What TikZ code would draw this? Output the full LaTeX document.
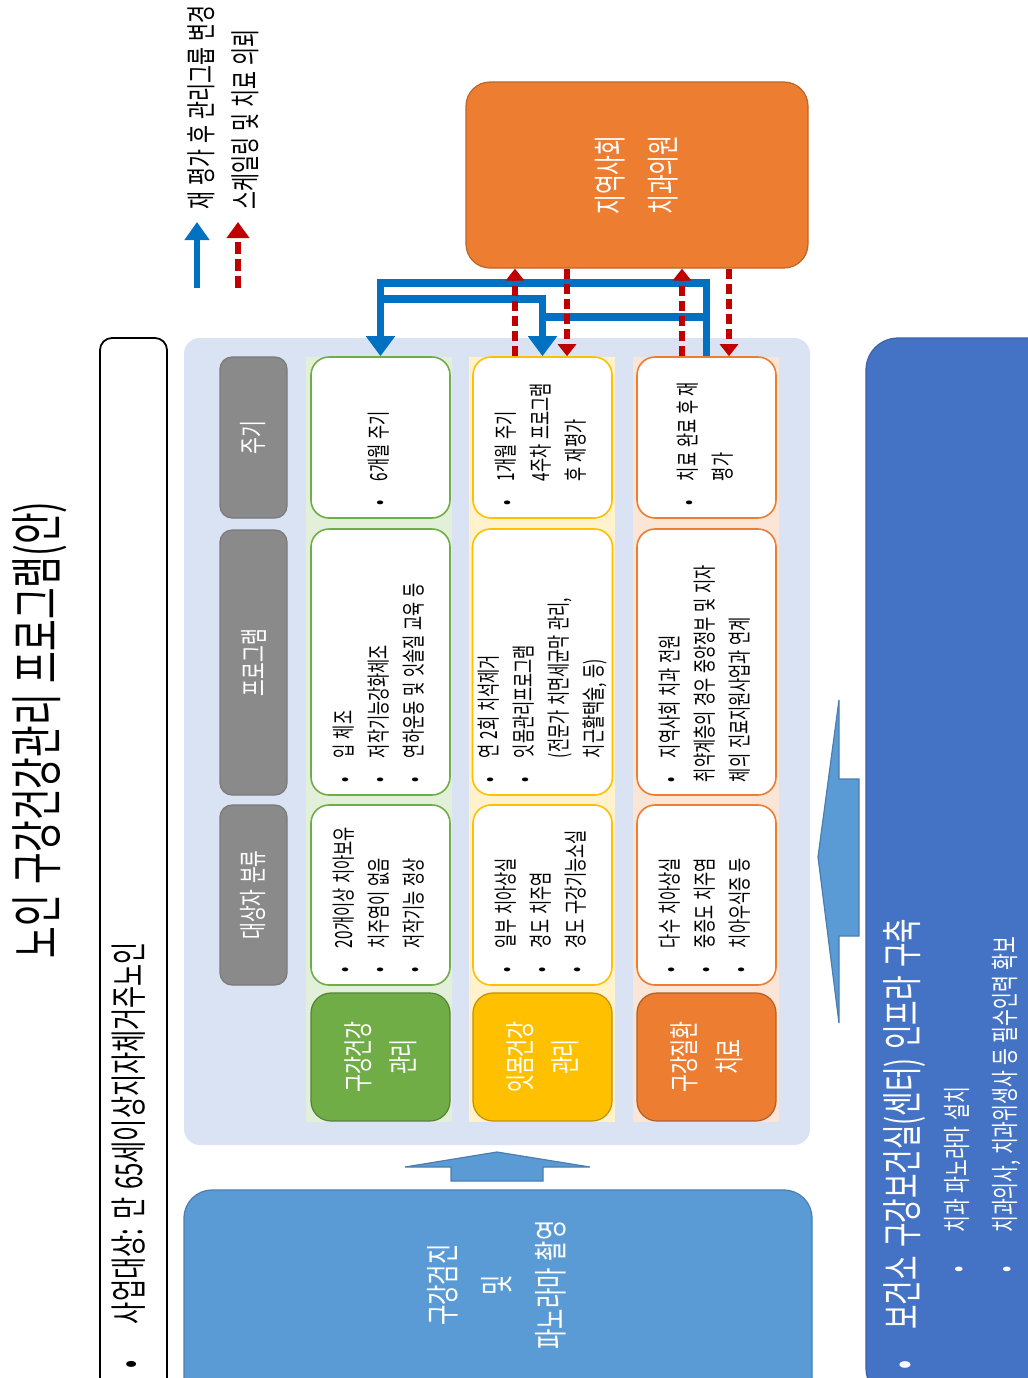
\documentclass[tikz,border=0pt]{standalone}
\usepackage{fontspec}
\setmainfont{Noto Sans CJK KR}[FakeStretch=0.65,WordSpace=1.4]
\usetikzlibrary{arrows.meta}
\definecolor{cBlue}{HTML}{0070C0}
\definecolor{cRed}{HTML}{C00000}
\definecolor{cOrange}{HTML}{ED7D31}
\definecolor{cGreen}{HTML}{70AD47}
\definecolor{cYellow}{HTML}{FFC000}
\definecolor{cPanel}{HTML}{DAE3F3}
\definecolor{cMid}{HTML}{5B9BD5}
\definecolor{cMidD}{HTML}{4A7EB0}
\definecolor{cDark}{HTML}{4472C4}
\definecolor{cDarkD}{HTML}{3A62A8}
\definecolor{cGray}{HTML}{8A8A8A}
\definecolor{cGrayD}{HTML}{7A7A7A}
\definecolor{bgGreen}{HTML}{E2F0D9}
\definecolor{bgYellow}{HTML}{FFF2CC}
\definecolor{bgOrange}{HTML}{FBE5D6}
\newcommand\mybul{\makebox[12pt][l]{•}}
\newcommand\myind{\hspace*{12pt}}
\newcommand\mytab[1]{\noindent{\spaceskip=0pt\xspaceskip=0pt\begin{tabular}{@{}l@{}}#1\end{tabular}}}
\begin{document}
\begin{tikzpicture}[x=0.5pt,y=-0.5pt,
  rt/.style={rotate=90, inner sep=0pt},
  rowbox/.style={rotate=90, draw=#1, line width=0.8pt, fill=white, rounded corners=9pt, align=left, inner xsep=6.5pt, inner ysep=0pt, minimum height=69.5pt, font=\fontsize{11.8}{17.5}\selectfont},
  hdr/.style={rotate=90, fill=cGray, draw=cGrayD, line width=0.6pt, rounded corners=6pt, minimum height=33.5pt, text=white, font=\fontsize{14}{17}\selectfont},
  lab/.style={rotate=90, fill=#1, draw=#1!75!black, line width=0.6pt, rounded corners=10pt, minimum width=64pt, minimum height=69.5pt, text=white, align=center, font=\fontsize{15}{22.5}\selectfont},
  strip/.style={fill=#1, minimum width=73pt, minimum height=382.5pt, inner sep=0pt},
  bluearrow/.style={draw=cBlue, line width=3.6pt, line join=miter, -{Triangle[width=14pt,length=10pt]}},
  blueline/.style={draw=cBlue, line width=3.6pt, line join=miter},
  redarrow/.style={draw=cRed, line width=3.3pt, dash pattern=on 5pt off 2.5pt, -{Triangle[width=9pt,length=6pt]}},
  block/.style={fill=cMid, draw=cMidD, line width=0.6pt},
]
\useasboundingbox (0,0) rectangle (1028,1378);
\clip (0,0) rectangle (1028,1378);
\fill[white] (0,0) rectangle (1028,1378);

% title
\node[rt, font=\fontsize{26.5}{30}\selectfont] (title) at (40,730) {노인 구강건강관리 프로그램(안)};

% target box
\node[rotate=90, draw=black, line width=0.9pt, rounded corners=6pt, fill=white, minimum height=33.5pt, text width=499pt, inner xsep=16pt, inner ysep=0pt, align=left, font=\fontsize{18.5}{20}\selectfont] (target) at (133.5,869) {\mytab{\makebox[22pt][l]{•}사업대상: 만 65세이상지자체거주노인}};

% legend
\coordinate (lgB0) at (197,288); \coordinate (lgB1) at (197,222);
\coordinate (lgR0) at (238,288); \coordinate (lgR1) at (238,222);
\draw[draw=cBlue, line width=3pt, -{Triangle[width=12pt,length=9pt]}] (lgB0) -- (lgB1);
\draw[draw=cRed, line width=3pt, dash pattern=on 6pt off 2.5pt, -{Triangle[width=11pt,length=8pt]}] (lgR0) -- (lgR1);
\node[rt, anchor=west, font=\fontsize{15}{18}\selectfont] (lgBt) at (201,210) {재 평가 후 관리그룹 변경};
\node[rt, anchor=west, font=\fontsize{15}{18}\selectfont] (lgRt) at (245,210) {스케일링 및 치료 의뢰};

% top orange box
\node[rotate=90, fill=cOrange, draw=cOrange!80!black, line width=0.6pt, rounded corners=12pt, minimum width=93pt, minimum height=171pt, text=white, align=center, font=\fontsize{16.5}{26.5}\selectfont] (top) at (637,175) {지역사회\\치과의원};

% panel
\node[fill=cPanel, rounded corners=8pt, minimum width=313pt, minimum height=403.5pt, inner sep=0pt] (panel) at (497,741.5) {};
\node[strip=bgGreen] (s1) at (379,739.5) {};
\node[strip=bgYellow] (s2) at (541.5,739.5) {};
\node[strip=bgOrange] (s3) at (705.5,739.5) {};

% headers
\node[hdr, minimum width=80.5pt] (h1) at (253.5,437.5) {주기};
\node[hdr, minimum width=132.5pt] (h2) at (253.5,662.5) {프로그램};
\node[hdr, minimum width=90pt] (h3) at (253.5,895) {대상자 분류};

% row 1
\node[rowbox=cGreen, text width=67.5pt] (r1c) at (380.5,437.5) {\mytab{\mybul 6개월 주기}};
\node[rowbox=cGreen, text width=120pt] (r1p) at (380.5,662) {\mytab{\mybul 입 체조\\ \mybul 저작기능강화체조\\ \mybul 연하운동 및 잇솔질 교육 등}};
\node[rowbox=cGreen, text width=77pt] (r1t) at (380.5,895) {\mytab{\mybul 20개이상 치아보유\\ \mybul 치주염이 없음\\ \mybul 저작기능 정상}};
\node[lab=cGreen] (r1l) at (380.5,1057) {구강건강\\관리};

% row 2
\node[rowbox=cYellow, text width=67.5pt] (r2c) at (542.5,437.5) {\mytab{\mybul 1개월 주기\\ \myind 4주차 프로그램\\ \myind 후 재평가}};
\node[rowbox=cYellow, text width=120pt] (r2p) at (542.5,662) {\mytab{\mybul 연 2회 치석제거\\ \mybul 잇몸관리프로그램\\ \myind (전문가 치면세균막 관리,\\ \myind 치근활택술, 등)}};
\node[rowbox=cYellow, text width=77pt] (r2t) at (542.5,895) {\mytab{\mybul 일부 치아상실\\ \mybul 경도 치주염\\ \mybul 경도 구강기능소실}};
\node[lab=cYellow] (r2l) at (542.5,1057) {잇몸건강\\관리};

% row 3
\node[rowbox=cOrange, text width=67.5pt] (r3c) at (706.5,437.5) {\mytab{\mybul 치료 완료 후 재\\ \myind 평가}};
\node[rowbox=cOrange, text width=120pt] (r3p) at (706.5,662) {\mytab{\mybul 지역사회 치과 전원\\ * 취약계층의 경우 중앙정부 및 지자\\ 체의 진료지원사업과 연계}};
\node[rowbox=cOrange, text width=77pt] (r3t) at (706.5,895) {\mytab{\mybul 다수 치아상실\\ \mybul 중증도 치주염\\ \mybul 치아우식증 등}};
\node[lab=cOrange] (r3l) at (706.5,1057) {구강질환\\치료};

% bottom-left box
\node[fill=cMid, draw=cMidD, line width=0.6pt, rounded corners=14pt, minimum width=314pt, minimum height=110pt, inner sep=0pt] (exam) at (498,1300) {};
\node[rt, align=center, text=white, font=\fontsize{17}{27}\selectfont] (examt) at (497,1285) {구강검진\\및\\파노라마 촬영};

% right box
\node[rotate=90, fill=cDark, draw=cDarkD, line width=0.6pt, rounded corners=16pt, minimum width=531pt, minimum height=97pt, inner sep=0pt] (infra) at (963,869) {};
\node[rt, anchor=west, text=white, font=\fontsize{20.5}{24}\selectfont] (inf1) at (904,1370) {\makebox[20pt][l]{•}보건소 구강보건실(센터) 인프라 구축};
\node[rt, anchor=west, text=white, font=\fontsize{14}{17}\selectfont] (inf2) at (957,1273) {\makebox[20pt][l]{•}치과 파노라마 설치};
\node[rt, anchor=west, text=white, font=\fontsize{14}{17}\selectfont] (inf3) at (1006,1273) {\makebox[20pt][l]{•}치과의사, 치과위생사 등 필수인력 확보};

% block arrows
\draw[block] (497,1152) -- (590,1167) -- (543,1167) -- (543,1181) -- (451,1181) -- (451,1167) -- (405,1167) -- cycle;
\draw[block] (818,857) -- (839,700) -- (839,779) -- (859,779) -- (859,936) -- (839,936) -- (839,1023) -- cycle;

% blue connectors
\coordinate (yA) at (0,283);
\coordinate (yB) at (0,299);
\coordinate (yC) at (0,317);
\draw[bluearrow] (r3c.east) -- (r3c.east |- yA) -| (r1c.east);
\draw[blueline] (r1c.east |- yB) -| (r2c.east |- yC);
\draw[bluearrow] (r3c.east |- yC) -| (r2c.east);

% red connectors
\coordinate (xa) at (515,0);
\coordinate (xb) at (567,0);
\coordinate (xc) at (682,0);
\coordinate (xd) at (729,0);
\draw[redarrow] (r2c.east -| xa) -- (top.west -| xa);
\draw[redarrow] (top.west -| xb) -- (r2c.east -| xb);
\draw[redarrow] (r3c.east -| xc) -- (top.west -| xc);
\draw[redarrow] (top.west -| xd) -- (r3c.east -| xd);
\end{tikzpicture}
\end{document}
